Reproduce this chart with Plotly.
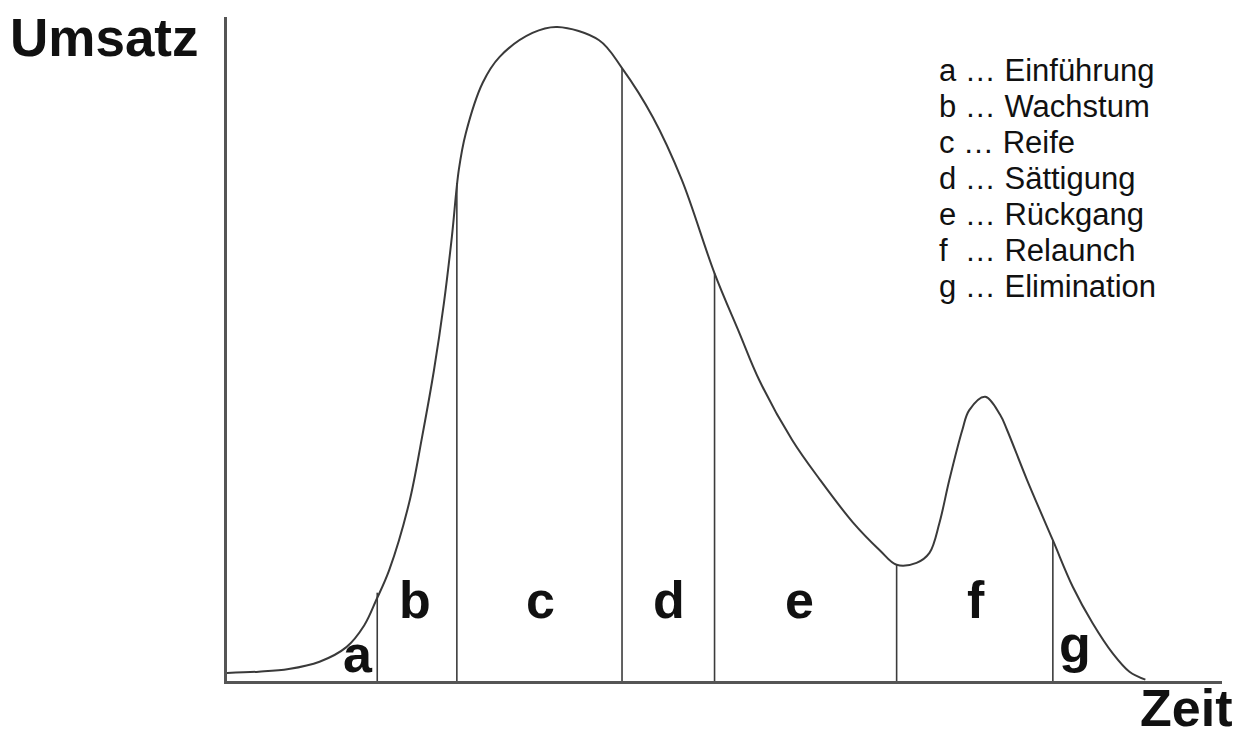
import plotly.graph_objects as go

# ---- data ----
zeit = [0.0, 3.2, 6.2, 9.3, 12.0, 13.8, 15.0, 16.3, 18.3, 19.6, 20.8, 21.8, 22.6, 23.3,
        24.0, 25.7, 27.4, 30.7, 33.2, 37.4, 39.7, 42.8, 45.7, 49.0, 51.5, 53.5, 56.8,
        59.6, 62.9, 65.6, 67.3, 69.3, 70.6, 71.6, 72.6, 73.9, 74.6, 76.2, 77.7, 78.4,
        80.4, 83.0, 85.0, 87.0, 89.0, 90.7, 92.3]
umsatz = [1.2, 1.4, 1.8, 2.9, 5.1, 8.4, 12.2, 16.7, 26.8, 36.7, 46.8, 56.9, 66.9, 77.0,
          82.5, 90.1, 94.0, 97.6, 98.5, 96.5, 92.3, 84.9, 75.5, 61.4, 52.4, 45.3, 36.3,
          30.3, 23.9, 19.7, 17.5, 17.8, 19.3, 23.8, 30.3, 37.8, 40.8, 42.8, 40.1, 37.8,
          30.3, 21.2, 14.2, 8.7, 4.2, 1.4, 0.2]

divider_zeit = [15.1, 23.1, 39.7, 49.0, 67.3, 83.0]
divider_umsatz = [13.3, 75.0, 92.3, 61.4, 17.5, 21.2]

phase_letters = ["a", "b", "c", "d", "e", "f", "g"]
phase_names = ["Einführung", "Wachstum", "Reife", "Sättigung", "Rückgang", "Relaunch", "Elimination"]

y_title = "Umsatz"
x_title = "Zeit"

# ---- label placement (layout) ----
phase_label_x = [13.2, 18.9, 31.5, 44.4, 57.5, 75.3, 85.2]
phase_label_y = [4.1, 12.2, 12.2, 12.2, 12.2, 12.2, 5.6]

W, H = 1236, 733
L, R, T, B = 227, 14, 17, 52
pw, ph = W - L - R, H - T - B


def px_x(p):
    return (p - L) / pw


def px_y(p):
    return (H - B - p) / ph


fig = go.Figure()

fig.add_trace(go.Scatter(
    x=zeit, y=umsatz, mode="lines",
    line=dict(color="#3a3a3a", width=2, shape="spline", smoothing=1.0),
    hoverinfo="skip", cliponaxis=False,
))

dx, dy = [], []
for t, u in zip(divider_zeit, divider_umsatz):
    dx += [t, t, None]
    dy += [0, u, None]
fig.add_trace(go.Scatter(
    x=dx, y=dy, mode="lines",
    line=dict(color="#3c3c3c", width=1.6),
    hoverinfo="skip",
))

annotations = []
for letter, lx, ly in zip(phase_letters, phase_label_x, phase_label_y):
    annotations.append(dict(
        x=lx, y=ly, xref="x", yref="y", text="<b>" + letter + "</b>", showarrow=False,
        xanchor="center", yanchor="middle",
        font=dict(family="Liberation Sans, Arial", size=52, color="#111111"),
    ))

# legend lines
for i, (letter, name) in enumerate(zip(phase_letters, phase_names)):
    prefix = letter + ("\u00a0\u00a0" if letter == "f" else "\u00a0")
    annotations.append(dict(
        x=px_x(937), y=px_y(70 + 36 * i), xref="paper", yref="paper",
        text=prefix + "…\u00a0" + name, showarrow=False,
        xanchor="left", yanchor="middle",
        font=dict(family="Liberation Sans, Arial", size=31, color="#111111"),
    ))

annotations.append(dict(
    x=px_x(8), y=px_y(37), xref="paper", yref="paper",
    text="<b>" + y_title + "</b>", showarrow=False,
    xanchor="left", yanchor="middle",
    font=dict(family="Liberation Sans, Arial", size=53, color="#111111"),
))
annotations.append(dict(
    x=px_x(1233), y=px_y(708), xref="paper", yref="paper",
    text="<b>" + x_title + "</b>", showarrow=False,
    xanchor="right", yanchor="middle", borderpad=0,
    font=dict(family="Liberation Sans, Arial", size=52, color="#111111"),
))

fig.update_layout(
    width=W, height=H,
    margin=dict(l=L, r=R, t=T, b=B),
    paper_bgcolor="white", plot_bgcolor="white",
    showlegend=False,
    annotations=annotations,
    xaxis=dict(range=[0, 100], showgrid=False, zeroline=False, showticklabels=False,
               ticks="", showline=True, linecolor="#555555", linewidth=3, fixedrange=True),
    yaxis=dict(range=[0, 100], showgrid=False, zeroline=False, showticklabels=False,
               ticks="", showline=True, linecolor="#555555", linewidth=3, fixedrange=True),
)

fig.write_html(
    "out.html",
    config={"displayModeBar": False},
    post_script="document.body.style.margin='0';document.body.style.overflow='hidden';",
)
